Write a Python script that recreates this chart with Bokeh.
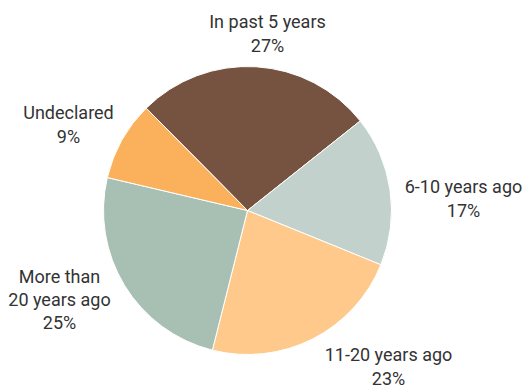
import math
from bokeh.plotting import figure
from bokeh.models import Range1d, ColumnDataSource
from bokeh.core.properties import value
from bokeh.embed import file_html
from bokeh.resources import INLINE

categories = ["In past 5 years", "6-10 years ago", "11-20 years ago",
              "More than 20 years ago", "Undeclared"]
percents = [27, 17, 23, 25, 9]
label_texts = ["In past 5 years\n27%", "6-10 years ago\n17%", "11-20 years ago\n23%",
               "More than\n20 years ago\n25%", "Undeclared\n9%"]
colors = ["#765340", "#C2D1CB", "#FEC98A", "#A8BFB3", "#FBB05B"]

# layout (pixel positions in a 524x388 canvas, y measured from top)
W, H = 524, 388
cx, cy, R = 247, 178, 144
start_deg = 134.7
label_px = [(267, 33), (463, 198), (388, 366), (59, 299), (68, 124)]

total = sum(percents)
starts, ends = [], []
a = math.radians(start_deg)
for v in percents:
    span = v / total * 2 * math.pi
    starts.append(a)
    ends.append(a - span)
    a -= span

src = ColumnDataSource(dict(cat=categories, start=starts, end=ends, color=colors))

p = figure(width=W, height=H, output_backend="svg", toolbar_location=None,
           x_range=Range1d(0, W), y_range=Range1d(0, H), min_border=0)
p.axis.visible = False
p.grid.visible = False
p.outline_line_color = None
p.background_fill_color = "white"
p.border_fill_color = "white"

p.wedge(x=cx, y=cy, radius=R, start_angle="start", end_angle="end",
        direction="clock", fill_color="color", line_color="white",
        line_width=1, source=src)

lsrc = ColumnDataSource(dict(x=[l[0] for l in label_px],
                             y=[H - l[1] for l in label_px],
                             t=label_texts))
p.text(x="x", y="y", text="t", source=lsrc, text_align="center",
       text_baseline="middle", text_font=value("Roboto"),
       text_font_size="18px", text_color="#333333", text_line_height=1.1)

open("out.html", "w").write(file_html(p, INLINE))
